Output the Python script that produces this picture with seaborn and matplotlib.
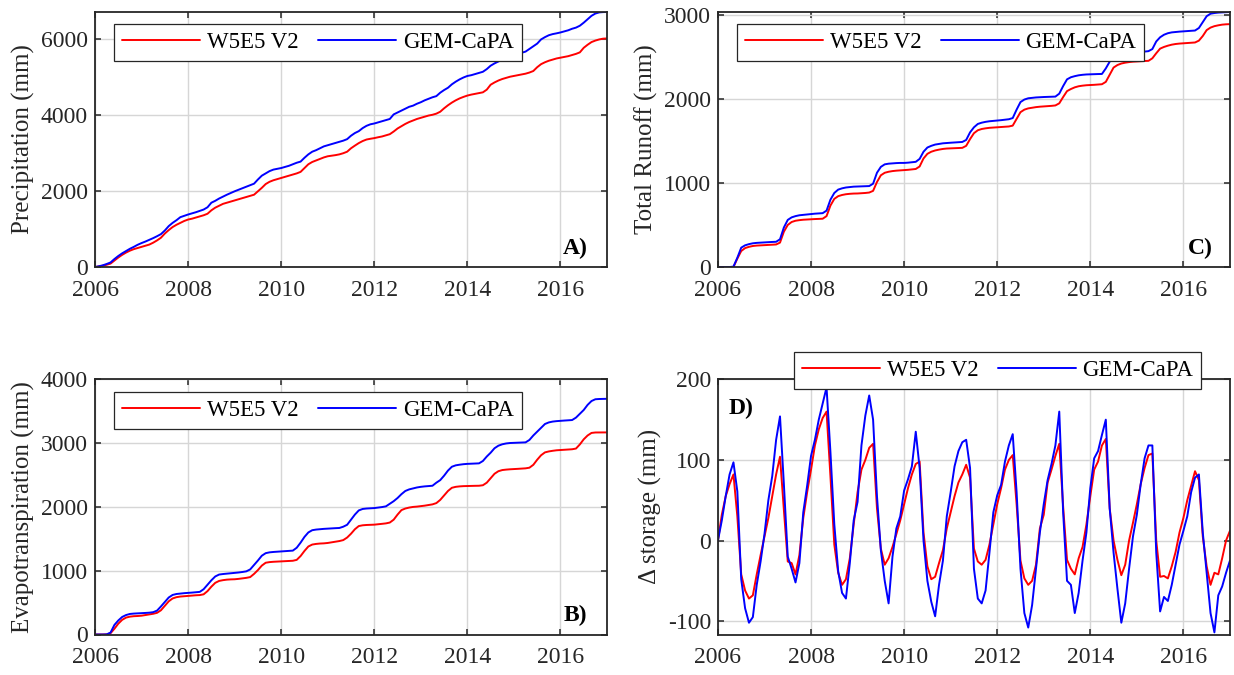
import numpy as np
import pandas as pd
import matplotlib
matplotlib.use("Agg")
import matplotlib.pyplot as plt
import seaborn as sns

# ---------------------------------------------------------------------------
# Monthly series, Jan 2006 .. Jan 2017 (133 values each)
# ---------------------------------------------------------------------------
dates = pd.date_range("2006-01-01", "2017-01-01", freq="MS")
year_frac = dates.year + (dates.month - 1) / 12.0

series_names = ["W5E5 V2", "GEM-CaPA"]
series_colors = {"W5E5 V2": "#ff0000", "GEM-CaPA": "#0000ff"}

# Cumulative precipitation (mm)
precip_w5e5 = [
    0, 15, 35, 60, 90, 170, 250, 320, 380, 430, 470, 500,
    530, 560, 590, 640, 700, 770, 880, 970, 1050, 1110, 1160, 1210,
    1248, 1270, 1300, 1330, 1360, 1400, 1490, 1560, 1610, 1660, 1690, 1720,
    1750, 1780, 1810, 1840, 1870, 1900, 1990, 2080, 2180, 2240, 2280, 2310,
    2340, 2370, 2400, 2430, 2460, 2500, 2600, 2700, 2760, 2800, 2840, 2880,
    2910, 2925, 2940, 2960, 2990, 3030, 3120, 3190, 3256, 3310, 3350, 3370,
    3387, 3410, 3430, 3460, 3490, 3560, 3640, 3700, 3760, 3810, 3850, 3890,
    3920, 3950, 3980, 4000, 4030, 4080, 4170, 4250, 4320, 4380, 4430, 4470,
    4505, 4530, 4550, 4570, 4590, 4660, 4790, 4850, 4900, 4940, 4970, 5000,
    5020, 5040, 5060, 5080, 5110, 5150, 5250, 5330, 5380, 5420, 5450, 5480,
    5500, 5520, 5540, 5570, 5600, 5640, 5760, 5840, 5910, 5950, 5980, 6000,
    6006,
]
precip_gem = [
    0, 20, 45, 80, 120, 210, 290, 360, 420, 480, 530, 585,
    630, 670, 715, 760, 810, 865, 960, 1075, 1160, 1230, 1310, 1345,
    1380, 1410, 1440, 1475, 1510, 1570, 1690, 1740, 1800, 1850, 1900, 1945,
    1990, 2030, 2070, 2110, 2150, 2190, 2300, 2400, 2460, 2520, 2560, 2580,
    2601, 2630, 2660, 2700, 2740, 2770, 2870, 2960, 3030, 3070, 3120, 3170,
    3200, 3230, 3260, 3290, 3320, 3360, 3450, 3520, 3570, 3650, 3710, 3750,
    3771, 3800, 3830, 3860, 3890, 4010, 4060, 4110, 4160, 4210, 4240, 4290,
    4330, 4380, 4420, 4460, 4490, 4580, 4650, 4710, 4800, 4870, 4930, 4980,
    5020, 5040, 5070, 5100, 5130, 5200, 5290, 5350, 5400, 5450, 5500, 5540,
    5580, 5600, 5630, 5660, 5730, 5800, 5870, 5980, 6040, 6090, 6120, 6140,
    6163, 6190, 6220, 6260, 6290, 6340, 6420, 6510, 6600, 6660, 6690, 6698,
    6700,
]

# Cumulative evapotranspiration (mm)
et_w5e5 = [
    0, 0, 0, 2, 20, 90, 170, 230, 265, 280, 287, 290,
    295, 305, 315, 325, 340, 380, 450, 520, 565, 585, 595, 600,
    605, 610, 615, 618, 630, 680, 750, 810, 840, 852, 860, 864,
    866, 872, 880, 888, 900, 950, 1010, 1080, 1125, 1135, 1140, 1143,
    1145, 1148, 1152, 1156, 1170, 1230, 1310, 1380, 1410, 1420, 1426, 1429,
    1435, 1445, 1455, 1465, 1480, 1520, 1580, 1650, 1700, 1712, 1717, 1720,
    1722, 1728, 1735, 1742, 1755, 1800, 1880, 1950, 1975, 1990, 2000, 2005,
    2012, 2020, 2030, 2040, 2060, 2110, 2180, 2250, 2300, 2315, 2322, 2326,
    2328, 2330, 2331, 2332, 2340, 2380, 2450, 2520, 2560, 2578, 2585, 2590,
    2593, 2597, 2601, 2605, 2615, 2660, 2740, 2810, 2855, 2870, 2880, 2888,
    2892, 2896, 2900, 2904, 2915, 2980, 3060, 3120, 3160, 3167, 3168, 3168,
    3168,
]
et_gem = [
    0, 0, 0, 2, 30, 150, 220, 275, 305, 322, 328, 331,
    334, 338, 342, 350, 375, 440, 510, 580, 620, 635, 642, 648,
    652, 657, 662, 668, 710, 780, 850, 910, 940, 948, 954, 960,
    965, 972, 980, 990, 1020, 1090, 1160, 1235, 1275, 1288, 1294, 1298,
    1302, 1306, 1310, 1315, 1360, 1440, 1530, 1600, 1635, 1645, 1651, 1656,
    1660, 1664, 1667, 1670, 1690, 1720, 1800, 1880, 1945, 1968, 1975, 1979,
    1982, 1990, 1998, 2009, 2050, 2090, 2140, 2200, 2250, 2275, 2290, 2305,
    2315, 2322, 2327, 2332, 2380, 2420, 2490, 2570, 2630, 2652, 2662, 2670,
    2675, 2678, 2681, 2683, 2720, 2790, 2850, 2920, 2960, 2982, 2995, 3002,
    3005, 3007, 3009, 3012, 3050, 3120, 3180, 3240, 3300, 3325, 3338, 3345,
    3350, 3354, 3358, 3362, 3400, 3460, 3520, 3600, 3660, 3688, 3692, 3694,
    3695,
]

# Cumulative total runoff (mm)
runoff_w5e5 = [
    0, 0, 0, 0, 0, 100, 190, 225, 240, 250, 255, 257,
    260, 263, 266, 268, 290, 420, 500, 535, 550, 557, 562, 565,
    568, 570, 572, 574, 605, 730, 810, 842, 856, 865, 870, 873,
    874, 877, 880, 885, 905, 1010, 1090, 1120, 1132, 1140, 1145, 1148,
    1150, 1155, 1160, 1165, 1195, 1290, 1345, 1370, 1385, 1395, 1403, 1408,
    1410, 1412, 1414, 1416, 1440, 1520, 1590, 1625, 1640, 1648, 1654, 1657,
    1660, 1663, 1666, 1670, 1680, 1760, 1840, 1870, 1885, 1893, 1900, 1905,
    1908, 1912, 1915, 1920, 1945, 2020, 2090, 2115, 2135, 2148, 2155, 2160,
    2162, 2165, 2168, 2172, 2200, 2285, 2370, 2400, 2418, 2428, 2435, 2440,
    2443, 2446, 2448, 2450, 2480, 2540, 2595, 2615, 2630, 2642, 2650, 2655,
    2658, 2661, 2664, 2668, 2690, 2745, 2815, 2845, 2862, 2872, 2880, 2884,
    2886,
]
runoff_gem = [
    0, 0, 0, 0, 5, 110, 230, 258, 272, 282, 287, 290,
    293, 296, 298, 300, 330, 470, 560, 590, 605, 615, 620, 625,
    630, 634, 637, 640, 670, 800, 880, 920, 935, 945, 950, 955,
    957, 958, 960, 962, 990, 1120, 1190, 1220, 1228, 1232, 1235, 1237,
    1237, 1240, 1245, 1250, 1285, 1370, 1420, 1440, 1455, 1463, 1470, 1474,
    1477, 1480, 1483, 1486, 1510, 1600, 1660, 1700, 1715, 1725, 1732, 1736,
    1739, 1745, 1750, 1756, 1770, 1870, 1960, 1990, 2005, 2010, 2015, 2018,
    2020, 2022, 2024, 2025, 2060, 2150, 2230, 2255, 2268, 2278, 2284, 2288,
    2290, 2292, 2293, 2294, 2360, 2440, 2500, 2525, 2535, 2540, 2545, 2548,
    2550, 2555, 2560, 2565, 2590, 2680, 2730, 2760, 2778, 2788, 2793, 2797,
    2800, 2803, 2806, 2810, 2840, 2910, 2980, 3010, 3018, 3023, 3026, 3028,
    3030,
]

# Change in storage (mm)
storage_w5e5 = [
    0, 32, 55, 70, 82, 30, -42, -62, -72, -68, -42, -18,
    5, 28, 55, 82, 104, 38, -26, -28, -42, -18, 28, 60,
    88, 118, 138, 152, 160, 80, -5, -40, -55, -48, -22, 20,
    60, 88, 100, 115, 120, 40, -10, -30, -22, -8, 8, 25,
    45, 65, 82, 95, 98, 10, -32, -48, -45, -28, -12, 15,
    35, 55, 72, 82, 94, 78, -10, -26, -30, -24, -5, 20,
    45, 65, 88, 100, 106, 45, -25, -47, -55, -50, -30, 15,
    32, 72, 88, 105, 120, 42, -24, -35, -42, -22, -8, 20,
    55, 88, 98, 118, 126, 40, 0, -24, -43, -30, 0, 22,
    45, 70, 90, 106, 108, 0, -45, -44, -47, -32, -14, 10,
    28, 50, 68, 86, 75, 5, -32, -55, -40, -42, -22, 0,
    12,
]
storage_gem = [
    0, 25, 55, 82, 97, 61, -48, -84, -102, -95, -55, -26,
    8, 50, 80, 125, 154, 70, -20, -35, -52, -28, 35, 68,
    105, 125, 150, 170, 190, 110, 20, -38, -65, -72, -28, 25,
    48, 118, 155, 180, 150, 55, -12, -50, -78, -20, 15, 30,
    62, 76, 92, 135, 90, 0, -50, -76, -94, -55, -25, 30,
    60, 92, 111, 122, 125, 90, -35, -72, -78, -62, -15, 35,
    56, 69, 98, 118, 132, 60, -35, -90, -108, -80, -35, 10,
    45, 75, 95, 118, 160, 35, -50, -55, -90, -65, -25, 10,
    65, 102, 111, 131, 150, 40, -15, -60, -102, -78, -35, 5,
    32, 70, 102, 118, 118, -15, -88, -70, -75, -55, -30, -5,
    12, 30, 60, 78, 82, 10, -40, -90, -114, -68, -57, -40,
    -25,
]

# Panel definitions: values, y-label, limits, ticks, tag, figure rectangle,
# legend anchor (axes fraction, upper-left corner), tag placement
panels = [
    dict(w5e5=precip_w5e5, gem=precip_gem, ylabel="Precipitation (mm)",
         ylim=(0, 6700), yticks=[0, 2000, 4000, 6000], tag="A)",
         rect=[0.0770, 0.6044, 0.4149, 0.3778], leg=(0.037, 0.953),
         tagpos=(0.962, 0.05), tag_ha="right"),
    dict(w5e5=runoff_w5e5, gem=runoff_gem, ylabel="Total Runoff (mm)",
         ylim=(0, 3030), yticks=[0, 1000, 2000, 3000], tag="C)",
         rect=[0.5818, 0.6044, 0.4149, 0.3778], leg=(0.037, 0.953),
         tagpos=(0.966, 0.05), tag_ha="right"),
    dict(w5e5=et_w5e5, gem=et_gem, ylabel="Evapotranspiration (mm)",
         ylim=(0, 4000), yticks=[0, 1000, 2000, 3000, 4000], tag="B)",
         rect=[0.0770, 0.0600, 0.4149, 0.3780], leg=(0.037, 0.952),
         tagpos=(0.962, 0.053), tag_ha="right"),
    dict(w5e5=storage_w5e5, gem=storage_gem, ylabel="\u0394 storage (mm)",
         ylim=(-116.6, 200), yticks=[-100, 0, 100, 200], tag="D)",
         rect=[0.5818, 0.0600, 0.4149, 0.3780], leg=(0.148, 1.107),
         tagpos=(0.021, 0.865), tag_ha="left"),
]

sns.set_theme(style="whitegrid")
plt.rcParams["font.family"] = ["Liberation Serif", "DejaVu Serif"]
plt.rcParams["axes.unicode_minus"] = False

dark = "#262626"
fig = plt.figure(figsize=(12.34, 6.75), dpi=100)
fig.patch.set_facecolor("white")

for p in panels:
    ax = fig.add_axes(p["rect"])
    df = pd.DataFrame({
        "year": np.concatenate([year_frac, year_frac]),
        "value": np.concatenate([p["w5e5"], p["gem"]]),
        "source": [series_names[0]] * len(year_frac) + [series_names[1]] * len(year_frac),
    })
    sns.lineplot(data=df, x="year", y="value", hue="source",
                 hue_order=series_names, palette=series_colors,
                 estimator=None, sort=False, linewidth=1.4, ax=ax, legend=False)

    ax.set_xlim(2006, 2017)
    ax.set_ylim(*p["ylim"])
    ax.set_xticks([2006, 2008, 2010, 2012, 2014, 2016])
    ax.set_xticklabels(["2006", "2008", "2010", "2012", "2014", "2016"])
    ax.set_yticks(p["yticks"])
    ax.set_yticklabels([str(v) for v in p["yticks"]])
    ax.set_xlabel("")
    ax.set_ylabel(p["ylabel"], fontsize=18, color=dark, labelpad=4)

    ax.set_facecolor("white")
    ax.grid(True, color="#d6d6d6", linewidth=1.0)
    ax.set_axisbelow(True)
    for side in ["left", "right", "top", "bottom"]:
        ax.spines[side].set_visible(True)
        ax.spines[side].set_color(dark)
        ax.spines[side].set_linewidth(1.3)
    ax.tick_params(axis="both", which="major", direction="in", length=4,
                   width=1.1, color=dark, labelcolor=dark, labelsize=17,
                   top=True, right=True, left=True, bottom=True)
    ax.tick_params(axis="y", pad=5)
    ax.tick_params(axis="x", pad=9)

    handles = ax.get_lines()[:2]
    leg = ax.legend(handles, series_names, loc="upper left",
                    bbox_to_anchor=p["leg"], borderaxespad=0, ncol=2,
                    frameon=True, fancybox=False, framealpha=1,
                    edgecolor=dark, fontsize=16.5, handlelength=3.4,
                    handletextpad=0.3, columnspacing=0.85, borderpad=0.35)
    leg.get_frame().set_linewidth(0.9)
    leg.set_zorder(10)
    for t in leg.get_texts():
        t.set_color("black")

    ax.text(p["tagpos"][0], p["tagpos"][1], p["tag"], transform=ax.transAxes,
            ha=p["tag_ha"], va="baseline", fontsize=17, fontweight="bold",
            color="black")

fig.savefig("out.png", dpi=100, facecolor="white")
